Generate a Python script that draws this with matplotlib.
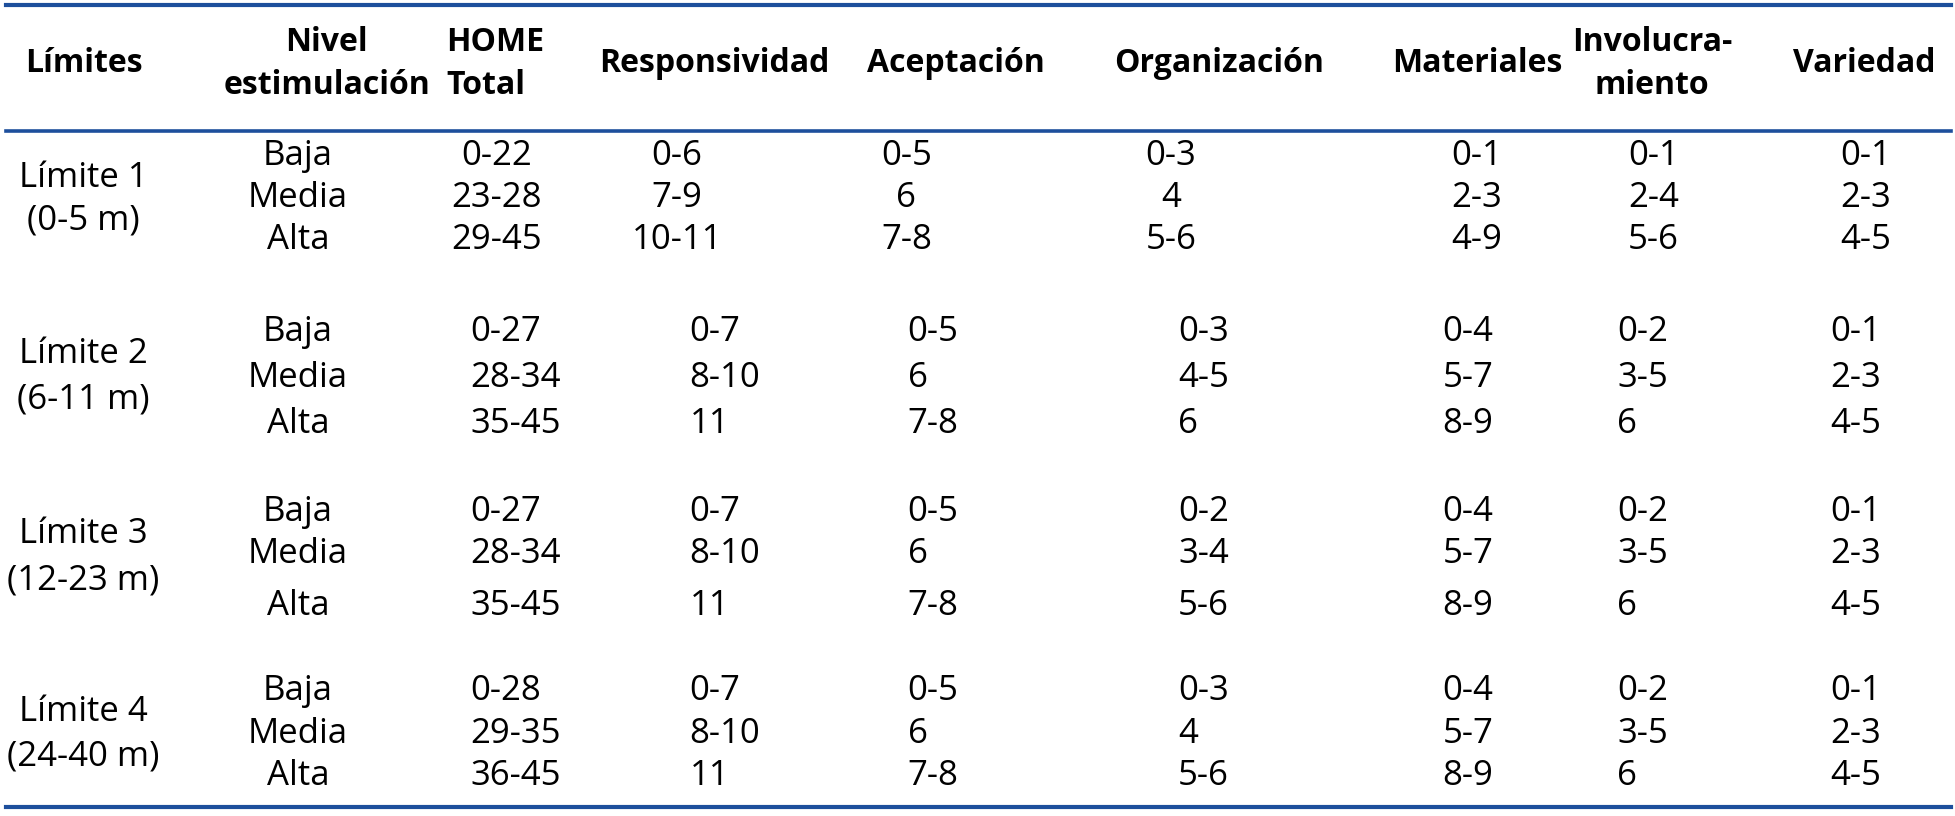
import matplotlib.pyplot as plt

# Table contents
headers = ["Límites", "Nivel\nestimulación", "HOME\nTotal", "Responsividad", "Aceptación",
           "Organización", "Materiales", "Involucra-\nmiento", "Variedad"]
limites = ["Límite 1", "Límite 2", "Límite 3", "Límite 4"]
edades = ["(0-5 m)", "(6-11 m)", "(12-23 m)", "(24-40 m)"]
niveles = ["Baja", "Media", "Alta"]

home_total = [["0-22", "23-28", "29-45"], ["0-27", "28-34", "35-45"],
              ["0-27", "28-34", "35-45"], ["0-28", "29-35", "36-45"]]
responsividad = [["0-6", "7-9", "10-11"], ["0-7", "8-10", "11"],
                 ["0-7", "8-10", "11"], ["0-7", "8-10", "11"]]
aceptacion = [["0-5", "6", "7-8"], ["0-5", "6", "7-8"],
              ["0-5", "6", "7-8"], ["0-5", "6", "7-8"]]
organizacion = [["0-3", "4", "5-6"], ["0-3", "4-5", "6"],
                ["0-2", "3-4", "5-6"], ["0-3", "4", "5-6"]]
materiales = [["0-1", "2-3", "4-9"], ["0-4", "5-7", "8-9"],
              ["0-4", "5-7", "8-9"], ["0-4", "5-7", "8-9"]]
involucramiento = [["0-1", "2-4", "5-6"], ["0-2", "3-5", "6"],
                   ["0-2", "3-5", "6"], ["0-2", "3-5", "6"]]
variedad = [["0-1", "2-3", "4-5"], ["0-1", "2-3", "4-5"],
            ["0-1", "2-3", "4-5"], ["0-1", "2-3", "4-5"]]

columnas = [home_total, responsividad, aceptacion, organizacion,
            materiales, involucramiento, variedad]

# layout (in a 1568 x 654 canvas)
W, H = 1568, 654
col_center = [67, 262, 398, 573, 767, 978, 1185, 1325, 1495]
head_left_home = 358
val_center = [398, 543, 727, 939, 1184, 1326, 1496]   # first block (centered)
val_left = [377, 553, 728, 945, 1157, 1297, 1468]     # other blocks (left aligned)
nivel_x = 239
row_y = [[125, 159, 192], [266, 303, 340], [410, 444, 486], [554, 588, 622]]
lim_y = [[143, 177], [284, 320], [428, 465], [571, 606]]
blue = "#1d4f9c"

plt.rcParams['font.family'] = ['Open Sans', 'DejaVu Sans']
fs = 25
fs_head = 23

fig = plt.figure(figsize=(19.55, 8.16), dpi=100)
ax = fig.add_axes([0, 0, 1, 1])
ax.set_xlim(0, W)
ax.set_ylim(H, 0)
ax.axis("off")

# rules
ax.plot([5, W - 3], [4, 4], color=blue, lw=3)
ax.plot([5, W - 3], [105, 105], color=blue, lw=2.6)
ax.plot([5, W - 3], [647, 647], color=blue, lw=3)

# header
for i, h in enumerate(headers):
    if i == 2:
        ax.text(head_left_home, 51, h, ha="left", va="center", fontsize=fs_head,
                fontweight="bold", linespacing=1.4)
    else:
        ax.text(col_center[i], 51, h, ha="center", va="center", fontsize=fs_head,
                fontweight="bold", linespacing=1.4, multialignment="center")

# body
for b in range(4):
    ax.text(col_center[0], lim_y[b][0], limites[b], ha="center", va="center", fontsize=fs)
    ax.text(col_center[0], lim_y[b][1], edades[b], ha="center", va="center", fontsize=fs)
    for r in range(3):
        y = row_y[b][r]
        ax.text(nivel_x, y, niveles[r], ha="center", va="center", fontsize=fs)
        for c, col in enumerate(columnas):
            if b == 0:
                ax.text(val_center[c], y, col[b][r], ha="center", va="center", fontsize=fs)
            else:
                ax.text(val_left[c], y, col[b][r], ha="left", va="center", fontsize=fs)

fig.savefig("out.png", dpi=100, facecolor="white")
